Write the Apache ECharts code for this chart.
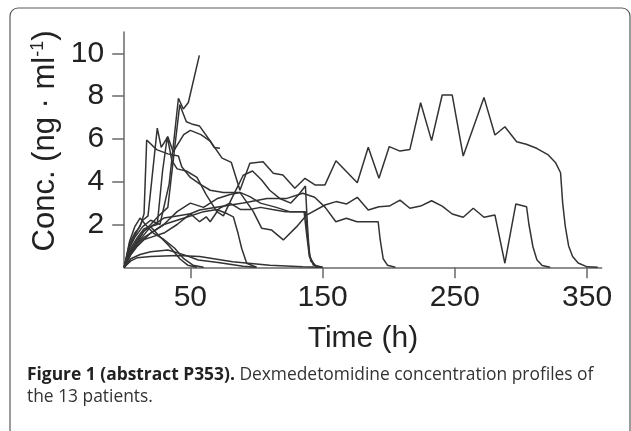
<!DOCTYPE html>
<html>
<head>
<meta charset="utf-8">
<script src="https://cdn.jsdelivr.net/npm/echarts@6/dist/echarts.min.js"></script>
<style>
  html, body { margin: 0; padding: 0; background: #fff; }
  #chart { width: 631px; height: 431px; }
</style>
</head>
<body>
<div id="chart"></div>
<script>
// ---- data (time h, concentration ng/ml) ----
const xTicks = [50, 150, 250, 350];
const yTicks = [2, 4, 6, 8, 10];

const patient1 = [[0,0],[5,0.7],[10,1.2],[15,1.7],[20,2.0],[26,2.4],[33,2.8],[38,5.5],[42,7.6],[47,6.8],[51,6.7],[57,6.6],[65,5.9],[74,5.1],[81,4.9],[87.5,3.6],[95,4.86],[105,4.93],[112.7,4.39],[120,4.31],[129,3.69],[136.7,4.16],[144.2,3.85],[151.8,3.85],[160.1,4.98],[176.2,3.95],[184.5,5.61],[192.6,4.16],[200.4,5.64],[208.5,5.43],[216,5.51],[224.1,7.69],[232.4,5.92],[240.4,8.05],[248,8.05],[256.3,5.2],[272,7.94],[280.3,6.18],[287.8,6.57],[296.7,5.87],[304,5.75],[311.8,5.56],[320.6,5.25],[326,4.9],[329.9,4.42],[331.5,3.0],[333.5,1.9],[336,1.0],[339,0.5],[343.2,0.2],[350,0.02],[358,0]];
const patient2 = [[0,0],[5,0.6],[10,1.0],[15,1.3],[20,1.6],[30,2.0],[40,2.6],[50,3.0],[60,2.8],[70,3.2],[80,3.4],[87.5,3.5],[97.6,2.6],[104,1.82],[111.5,1.74],[120.3,1.28],[130.4,1.9],[137.9,2.44],[151.8,2.91],[160.1,3.07],[168.2,2.96],[176.2,3.27],[184.5,2.68],[192.6,2.83],[200.4,2.86],[208.5,3.14],[216,2.76],[224.1,2.86],[232.4,3.11],[240.4,2.86],[248,2.49],[256.3,2.34],[263.9,2.76],[272,2.34],[280.3,2.44],[287.8,0.19],[296.1,2.96],[304.2,2.83],[306,2.0],[309,0.96],[312,0.35],[316,0.08],[322,0]];
const patient3 = [[0,0],[6,0.8],[12,1.3],[20,1.9],[30,2.3],[40,2.4],[50,2.5],[57,2.68],[72,2.83],[90,3.0],[108,3.22],[123,3.22],[135,3.46],[144,3.27],[152,2.8],[160,2.13],[168,2.29],[176,2.13],[192,2.13],[193.5,1.3],[195.8,0.4],[199,0.1],[205,0]];
const patient4 = [[0,0],[4,0.9],[8,1.4],[14,1.9],[20,2.2],[27,2.0],[34,3.9],[41,7.9],[44.7,7.4],[48.5,7.7],[56.8,9.9]];
const patient5 = [[0,0],[4,1.0],[9,1.6],[14,2.2],[18,2.4],[25,6.5],[28,5.6],[33,6.1],[37,5.4],[45,6.2],[50,6.4],[58,6.2],[65,5.9],[68,5.6],[72.4,5.56]];
const patient6 = [[0,0],[4,1.1],[8,1.6],[12,1.9],[15,2.5],[17,5.95],[24.5,5.5],[33,5.3],[41,5.2],[43.5,4.7],[50,4.2],[57,3.9],[65,3.6],[75,3.5],[87.5,3.5],[95,3.3],[103,3.0],[115,2.8],[125,2.6],[136,2.6],[138,1.5],[140,0.5],[144,0.1],[150,0]];
const patient7 = [[0,0],[5,0.8],[10,1.3],[15,1.7],[20,1.9],[25,2.0],[29,4.5],[32.6,6.1],[36,5.0],[40,4.6],[47,4.5],[55,4.2],[62,3.4],[70,2.6],[75,2.4],[82,3.3],[90,4.3],[97,4.5],[103.9,4.08],[110,3.6],[118,3.2],[126,3.0],[132,3.4],[137,3.8],[138.5,2.0],[140,0.6],[143,0.1],[148,0]];
const patient8 = [[0,0],[5,0.7],[10,1.1],[15,1.4],[20,1.6],[30,2.0],[40,2.2],[50,2.4],[60,2.6],[70,2.7],[78,2.5],[82.5,2.36],[86,1.6],[88.8,0.89],[92.6,0.19],[100,0]];
const patient9 = [[0,0],[5,0.3],[10,0.45],[20,0.5],[40,0.55],[57,0.5],[82,0.26],[110,0.1],[135,0.03],[150,0]];
const patient10 = [[0,0],[5,0.4],[12,0.6],[20,0.73],[33,0.81],[46,0.57],[56,0.34],[71,0.22],[90,0.05],[100,0]];
const patient11 = [[0,0],[4,1.2],[8,1.9],[12,2.3],[16,2.0],[22,1.6],[30,1.3],[38,0.9],[45,0.4],[52,0.1],[60,0]];
const patient12 = [[0,0],[5,0.9],[10,1.4],[15,1.8],[20,1.9],[26,1.5],[34,1.0],[42,0.4],[48,0.1],[55,0]];
const patient13 = [[0,0],[5,0.6],[10,1.0],[15,1.3],[20,1.4],[30,1.6],[40,2.0],[50,2.5],[57,2.13],[62,2.36],[65,2.13],[72,2.76],[80,3.0],[88,2.7],[95,2.7],[103,2.8],[112,2.7],[122,2.6],[130,2.6],[137,2.6],[139,1.2],[141,0.3],[146,0]];

const patients = [patient1, patient2, patient3, patient4, patient5, patient6, patient7,
                  patient8, patient9, patient10, patient11, patient12, patient13];

const chart = echarts.init(document.getElementById('chart'), null, { renderer: 'canvas' });
const axisColor = '#6a6a6a';
const labelFont = 'Liberation Sans, Arial, Helvetica, sans-serif';

chart.setOption({
  animation: false,
  backgroundColor: '#fff',
  grid: { left: 124.2, top: 31.9, width: 477.5, height: 235.4, containLabel: false },
  xAxis: {
    type: 'value', min: 0, max: 361,
    axisLine: { show: true, lineStyle: { color: axisColor, width: 1.5 } },
    axisTick: { show: true, length: 11, customValues: xTicks, lineStyle: { color: axisColor, width: 1.5 } },
    axisLabel: { customValues: xTicks, fontSize: 30, color: '#222', margin: 15, fontFamily: labelFont },
    splitLine: { show: false }
  },
  yAxis: {
    type: 'value', min: 0, max: 11,
    axisLine: { show: true, lineStyle: { color: axisColor, width: 1.5 } },
    axisTick: { show: true, length: 12, customValues: yTicks, lineStyle: { color: axisColor, width: 1.5 } },
    axisLabel: { customValues: yTicks, fontSize: 30, color: '#222', margin: 20, fontFamily: labelFont },
    splitLine: { show: false }
  },
  series: patients.map((p, i) => ({
    type: 'line', name: 'Patient ' + (i + 1), data: p,
    showSymbol: false, symbol: 'none', silent: true,
    lineStyle: { color: '#333', width: 1.5 }
  })),
  graphic: [
    { type: 'rect', shape: { x: 10, y: 8, width: 620, height: 430, r: 8 },
      style: { fill: 'none', stroke: '#5a5a5a', lineWidth: 1.2 }, silent: true },
    { type: 'text', x: 45, y: 141, rotation: Math.PI / 2,
      style: {
        text: '{a|Conc. (ng · ml}{s|-1}{a|)}',
        align: 'center', verticalAlign: 'middle',
        rich: {
          a: { fontSize: 31, fontFamily: labelFont, fill: '#222' },
          s: { fontSize: 18, fontFamily: labelFont, fill: '#222', verticalAlign: 'top' }
        }
      } },
    { type: 'text', x: 363, y: 339,
      style: { text: 'Time (h)', fontSize: 30, fontFamily: labelFont, fill: '#222', align: 'center', verticalAlign: 'middle' } },
    { type: 'text', x: 27, y: 364,
      style: {
        text: '{b|Figure 1 (abstract P353).}{r| Dexmedetomidine concentration profiles of}\n{r|the 13 patients.}',
        align: 'left', verticalAlign: 'top',
        rich: {
          b: { fontSize: 17.4, fontFamily: 'Open Sans, sans-serif', fontWeight: 'bold', fill: '#222', lineHeight: 22 },
          r: { fontSize: 17.4, fontFamily: 'Open Sans, sans-serif', fill: '#333', lineHeight: 22 }
        }
      } }
  ]
});
</script>
</body>
</html>
